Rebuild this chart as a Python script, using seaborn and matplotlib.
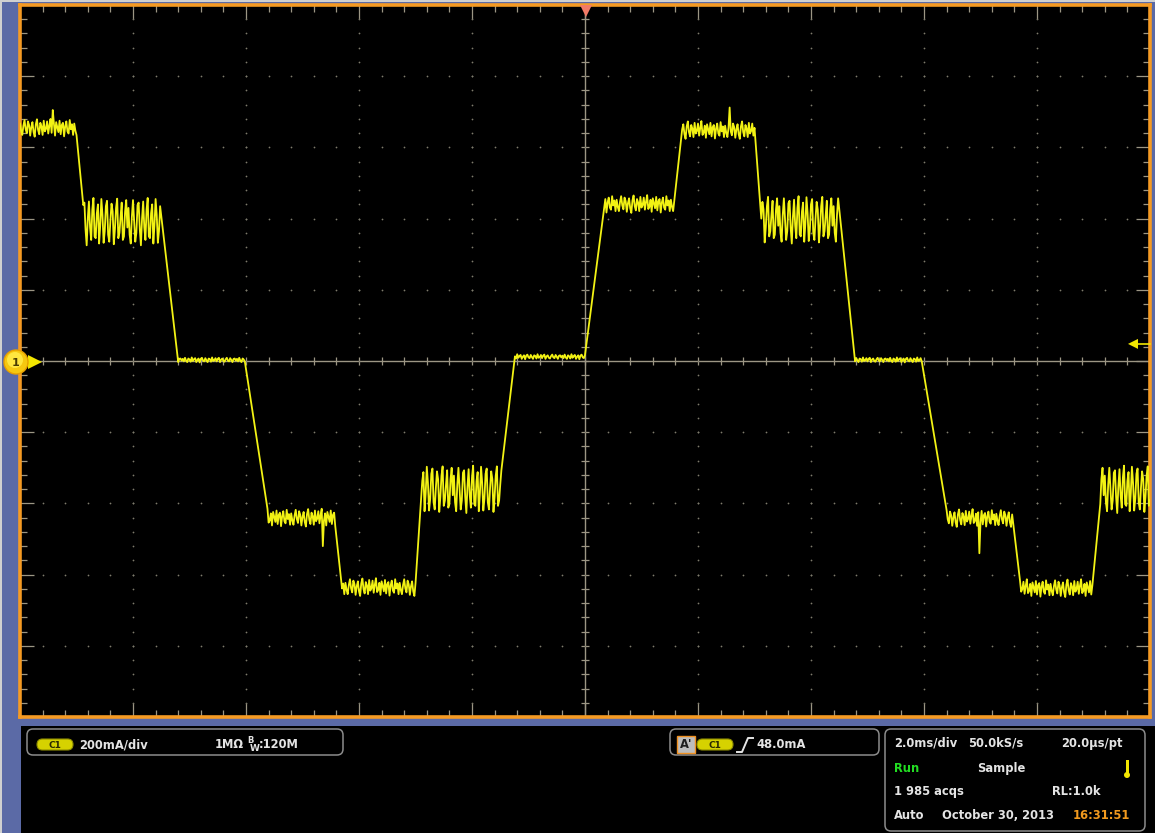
import numpy as np
import pandas as pd
import matplotlib
matplotlib.use("Agg")
import matplotlib.pyplot as plt
from matplotlib.patches import Rectangle, FancyBboxPatch, Polygon, Circle
from matplotlib.collections import LineCollection
import seaborn as sns

# ---------------- display settings ----------------
TIME_PER_DIV_MS = 2.0
CURRENT_PER_DIV_MA = 200.0
SAMPLE_INTERVAL_MS = 0.02
N_DIV = 10
TRIGGER_LEVEL_MA = 48.0

# ---------------- current trace: plateaus ----------------
PLATEAU_START_MS = [0.00, 1.13, 2.80, 4.39, 5.70, 7.13, 8.76, 10.37, 11.72, 13.13, 14.78, 16.39, 17.70, 19.13]
PLATEAU_END_MS = [0.99, 2.48, 3.98, 5.58, 6.99, 8.51, 10.00, 11.56, 13.00, 14.48, 15.96, 17.56, 18.99, 20.00]
PLATEAU_LEVEL_MA = [655, 390, 3, -440, -635, -362, 12, 441, 649, 395, 3, -441, -638, -362]
PLATEAU_RIPPLE = ["mid", "loud", "quiet", "mid", "mid", "loud", "quiet",
                  "mid", "mid", "loud", "quiet", "mid", "mid", "loud"]

# ripple riding on the plateaus (mA)
RIPPLE_LOUD_MA = [40, -35, -60, 15, 62, 5, -55, -30, 48, 55, -20, -65, 10, 58, -15, -50,
                  35, 68, -40, -45, 25, 50, -60, -10, 65, 20, -58, -25, 45, 60, -35, -55,
                  5, 52, 30, -62, -20, 40, 66, -45, -30, 15, 55, -50, -40, 30, 62, -15]
RIPPLE_MID_MA = [12, -8, -20, 6, 22, -4, -15, 18, 8, -22, 2, 16, -12, -25, 10, 24,
                 -6, -18, 14, 4, -20, 20, -10, -3, 18, -16, 6, 25, -14, -8, 12, -22,
                 16, 2, -12, 20, -18, 8, 14, -24, 4, 18, -10, -16, 22, -4, 10, -20]
RIPPLE_QUIET_MA = [3, -4, 6, -2, -6, 4, 1, -5, 7, -3, 2, 5, -6, 0, 4, -7,
                   3, 6, -2, -4, 5, -1, -6, 4, 2, -5, 7, -3, -1, 5, -4, 3,
                   6, -6, 1, 4, -3, -5, 2, 6, -2, -4, 5, 0, -6, 3, 4, -2]

SPIKE_TIME_MS = [0.58, 5.36, 12.56, 16.98]
SPIKE_VALUE_MA = [705, -520, 712, -540]

# ---------------- readout texts ----------------
CH_SCALE = "200mA/div"
CH_IMPEDANCE = "1MΩ"
CH_BW = ":120M"
TRIG_TEXT = "48.0mA"
ROW1 = ["2.0ms/div", "50.0kS/s", "20.0µs/pt"]
ROW2 = ["Run", "Sample"]
ROW3 = ["1 985 acqs", "RL:1.0k"]
ROW4 = ["Auto", "October 30, 2013", "16:31:51"]

# ---------------- colours ----------------
BLUE = "#5B6AA6"
ORANGE = "#F59A23"
TRACE = "#F2F214"
GRID_DOT = "#7E7B6C"
GRID_TICK = "#9C9684"
TEXT = "#E4E4E4"

W, H = 1155, 833
fig = plt.figure(figsize=(W / 100, H / 100), dpi=100, facecolor=BLUE)

# pixel-space helper axes (background and overlay)
bg = fig.add_axes([0, 0, 1, 1], zorder=0)
bg.set_xlim(0, W); bg.set_ylim(H, 0); bg.axis("off")
bg.add_patch(Rectangle((0, 0), W, H, fc=BLUE, ec="none"))
bg.add_patch(Rectangle((21, 725.5), W - 21, H - 725.5, fc="black", ec="none"))
bg.add_patch(Rectangle((0, 0), 2, H, fc="#D0D0D0", ec="none"))
bg.add_patch(Rectangle((0, 0), W, 1.5, fc="#D0D0D0", ec="none"))

# ---------------- main graticule axes ----------------
x0, y0, x1, y1 = 20, 5, 1150, 717
ax = fig.add_axes([x0 / W, (H - y1) / H, (x1 - x0) / W, (y1 - y0) / H], zorder=1)
ax.set_facecolor("black")
t_span = N_DIV * TIME_PER_DIV_MS
i_half = N_DIV / 2 * CURRENT_PER_DIV_MA
ax.set_xlim(0, t_span)
ax.set_ylim(-i_half, i_half)
ax.set_xticks([]); ax.set_yticks([])
for s in ax.spines.values():
    s.set_color(ORANGE)
    s.set_linewidth(2.6)

px_x = (x1 - x0) / t_span          # pixels per ms
px_y = (y1 - y0) / (2 * i_half)    # pixels per mA

minor_x = np.arange(0, t_span + 1e-9, TIME_PER_DIV_MS / 5)
minor_y = np.arange(-i_half, i_half + 1e-9, CURRENT_PER_DIV_MA / 5)
major_x = np.arange(0, t_span + 1e-9, TIME_PER_DIV_MS)
major_y = np.arange(-i_half, i_half + 1e-9, CURRENT_PER_DIV_MA)
t_mid = t_span / 2

def is_major(v, step):
    return abs(v / step - round(v / step)) < 1e-6

segs = []
# edge ticks
for xv in minor_x[1:-1]:
    L = (14 if is_major(xv, TIME_PER_DIV_MS) else 7) / px_y
    segs.append([(xv, i_half), (xv, i_half - L)])
    segs.append([(xv, -i_half), (xv, -i_half + L)])
for yv in minor_y[1:-1]:
    L = (14 if is_major(yv, CURRENT_PER_DIV_MA) else 7) / px_x
    segs.append([(0, yv), (L, yv)])
    segs.append([(t_span, yv), (t_span - L, yv)])
# crosshair ticks
for xv in minor_x[1:-1]:
    segs.append([(xv, -4 / px_y), (xv, 4 / px_y)])
for yv in minor_y[1:-1]:
    segs.append([(t_mid - 4 / px_x, yv), (t_mid + 4 / px_x, yv)])
ax.add_collection(LineCollection(segs, colors=GRID_TICK, linewidths=0.9, zorder=2))
ax.plot([0, t_span], [0, 0], color=GRID_TICK, lw=1.0, zorder=2)
ax.plot([t_mid, t_mid], [-i_half, i_half], color=GRID_TICK, lw=1.0, zorder=2)

# graticule dots
dx, dy = [], []
for xv in major_x[1:-1]:
    if abs(xv - t_mid) < 1e-6:
        continue
    for yv in minor_y[1:-1]:
        dx.append(xv); dy.append(yv)
for yv in major_y[1:-1]:
    if abs(yv) < 1e-6:
        continue
    for xv in minor_x[1:-1]:
        dx.append(xv); dy.append(yv)
ax.scatter(dx, dy, s=1.6, color=GRID_DOT, linewidths=0, zorder=2)

# ---------------- build the sampled trace ----------------
ripple_sets = {"loud": RIPPLE_LOUD_MA, "mid": RIPPLE_MID_MA, "quiet": RIPPLE_QUIET_MA}
spike_idx = {int(round(t / SAMPLE_INTERVAL_MS)): v for t, v in zip(SPIKE_TIME_MS, SPIKE_VALUE_MA)}
t_vals, i_vals = [], []
for ts, te, lvl, kind in zip(PLATEAU_START_MS, PLATEAU_END_MS, PLATEAU_LEVEL_MA, PLATEAU_RIPPLE):
    pat = ripple_sets[kind]
    k0 = int(round(ts / SAMPLE_INTERVAL_MS))
    k1 = int(round(te / SAMPLE_INTERVAL_MS))
    for k in range(k0, k1 + 1):
        t_vals.append(k * SAMPLE_INTERVAL_MS)
        i_vals.append(spike_idx.get(k, lvl + pat[k % len(pat)]))
trace = pd.DataFrame({"time_ms": t_vals, "current_ma": i_vals})
sns.lineplot(data=trace, x="time_ms", y="current_ma", ax=ax, color=TRACE,
             linewidth=1.3, estimator=None, sort=False, zorder=3)
ax.set_xlabel(""); ax.set_ylabel("")
ax.set_xlim(0, t_span); ax.set_ylim(-i_half, i_half)

# ---------------- overlay: markers and readouts ----------------
ov = fig.add_axes([0, 0, 1, 1], zorder=3)
ov.set_xlim(0, W); ov.set_ylim(H, 0); ov.axis("off"); ov.patch.set_alpha(0)

# channel 1 ground marker
ov.add_patch(Polygon([(28, 355), (42, 362), (28, 369)], closed=True, fc="#F2E600", ec="none"))
ov.add_patch(Circle((16, 362), 12, fc="#F6C810", ec="#E8A000", lw=1))
ov.add_patch(Circle((15, 360), 8, fc="#FFE640", ec="none"))
ov.text(16, 362.5, "1", color="#4A3A00", fontsize=8, fontweight="bold", ha="center", va="center")

# trigger position marker
ov.add_patch(Polygon([(580, 5), (592, 5), (586, 17)], closed=True, fc="#F27A66", ec="none"))

# trigger level marker
trig_y = y0 + (i_half - TRIGGER_LEVEL_MA) * px_y
ov.add_patch(Polygon([(1128, trig_y), (1138, trig_y - 5), (1138, trig_y + 5)], closed=True,
                     fc="#F2E600", ec="none"))
ov.plot([1137, 1150], [trig_y, trig_y], color="#F2E600", lw=1.2)

def rbox(x, y, w, h):
    ov.add_patch(FancyBboxPatch((x, y), w, h, boxstyle="round,pad=0,rounding_size=6",
                                fc="black", ec="#8C8C8C", lw=1.1))

def pill(x, y, w=36, h=11):
    ov.add_patch(FancyBboxPatch((x, y), w, h, boxstyle="round,pad=0,rounding_size=5.5",
                                fc="#D6D200", ec="#8E8C00", lw=0.8))
    ov.text(x + w / 2, y + h / 2 + 0.5, "C1", color="#2A2A00", fontsize=6.5,
            fontweight="bold", ha="center", va="center")

def label(x, y, s, color=TEXT, ha="left", size=8.3):
    ov.text(x, y, s, color=color, fontsize=size, fontweight="bold", ha=ha, va="baseline")

# channel readout
rbox(27, 729, 316, 26)
pill(37, 739)
label(79, 748, CH_SCALE)
label(215, 748, CH_IMPEDANCE)
label(247, 743, "B", size=6)
label(250, 751, "W", size=6.5)
label(259, 748, CH_BW)

# trigger readout
rbox(670, 729, 209, 26)
ov.add_patch(Rectangle((677, 736), 18, 17, fc="#BDBDBD", ec="#F09020", lw=1))
ov.text(686, 745, "A'", color="#1E1E1E", fontsize=8.3, fontweight="bold", ha="center", va="center")
pill(697, 739)
ov.plot([737, 742, 748, 753], [752, 752, 738, 738], color=TEXT, lw=1.4)
label(756, 748, TRIG_TEXT)

# timebase / acquisition readout
rbox(885, 729, 260, 102)
label(894, 747, ROW1[0]); label(968, 747, ROW1[1]); label(1123, 747, ROW1[2], ha="right")
label(894, 772, ROW2[0], color="#22DD22"); label(977, 772, ROW2[1])
ov.add_patch(Rectangle((1125.5, 760), 3, 13, fc="#F2E600", ec="none"))
ov.add_patch(Circle((1127, 775), 3, fc="#F2E600", ec="none"))
label(894, 795, ROW3[0]); label(1052, 795, ROW3[1])
label(894, 819, ROW4[0]); label(942, 819, ROW4[1]); label(1073, 819, ROW4[2], color="#F29A1E")

fig.savefig("out.png", dpi=100, facecolor=fig.get_facecolor())
